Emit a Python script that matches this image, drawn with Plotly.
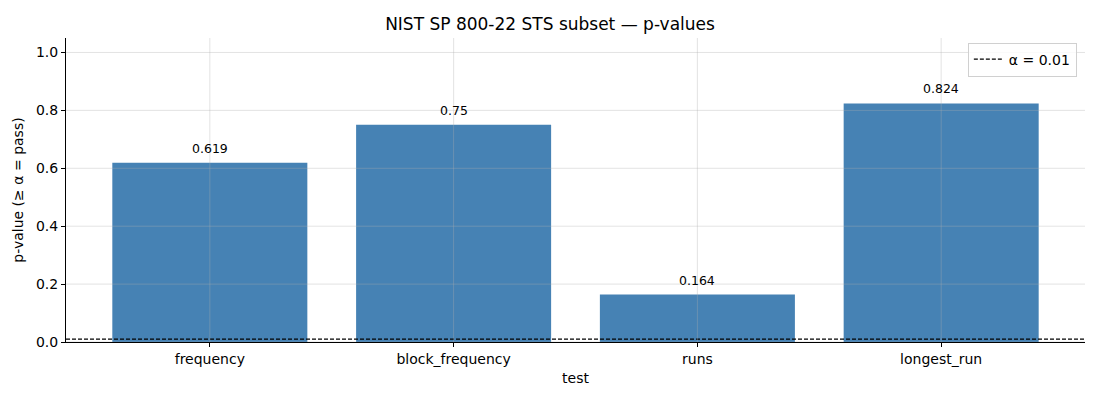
import plotly.graph_objects as go

# data
tests = ["frequency", "block_frequency", "runs", "longest_run"]
p_values = [0.619, 0.75, 0.164, 0.824]
alpha = 0.01
y_ticks = [0.0, 0.2, 0.4, 0.6, 0.8, 1.0]

bar_color = "#4682B4"
grid_color = "rgba(176,176,176,0.35)"
dash_style = "4px,2px"

fig = go.Figure()
fig.add_trace(go.Bar(x=tests, y=p_values, marker=dict(color=bar_color, line=dict(width=0)),
                     width=0.8, showlegend=False, hoverinfo="x+y"))
# dummy trace only for the legend entry of the alpha line
fig.add_trace(go.Scatter(x=[None], y=[None], mode="lines", name="α = 0.01",
                         line=dict(color="black", dash=dash_style, width=1.2)))

# threshold line
fig.add_hline(y=alpha, line=dict(color="black", dash=dash_style, width=1.2), layer="above")

# grid on top of bars, like matplotlib's ax.grid with alpha
for t in tests:
    fig.add_shape(type="line", xref="x", yref="paper", x0=t, x1=t, y0=0, y1=1,
                  line=dict(color=grid_color, width=1), layer="above")
for v in y_ticks:
    fig.add_shape(type="line", xref="paper", yref="y", x0=0, x1=1, y0=v, y1=v,
                  line=dict(color=grid_color, width=1), layer="above")

# value labels
for t, v in zip(tests, p_values):
    fig.add_annotation(x=t, y=v, text=str(round(v, 3)), showarrow=False,
                       yanchor="bottom", yshift=5, font=dict(size=12.5, color="black"))

fig.update_layout(
    width=1100, height=400,
    margin=dict(l=66, r=15, t=38, b=58),
    plot_bgcolor="white", paper_bgcolor="white",
    font=dict(family="DejaVu Sans", size=14, color="black"),
    title=dict(text="NIST SP 800-22 STS subset — p-values", x=0.5, xanchor="center",
               y=0.94, yanchor="middle", font=dict(size=17)),
    bargap=0.2,
    legend=dict(x=0.992, y=0.985, xanchor="right", yanchor="top",
                bordercolor="#d0d0d0", borderwidth=1, bgcolor="rgba(255,255,255,0.8)",
                font=dict(size=14), tracegroupgap=0),
    xaxis=dict(title=dict(text="test", standoff=7, font=dict(size=14)),
               range=[-0.59, 3.59], showgrid=False, showline=True, linecolor="black",
               linewidth=1, ticks="outside", ticklen=4, tickcolor="black", zeroline=False),
    yaxis=dict(title=dict(text="p-value (≥ α = pass)", standoff=9, font=dict(size=14)),
               range=[0, 1.05], tickvals=y_ticks, tickformat=".1f", showgrid=False,
               showline=True, linecolor="black", linewidth=1, ticks="outside", ticklen=4,
               tickcolor="black", zeroline=False),
)

# drop the default page margin so the figure sits at the window's corner
fig.write_html("out.html", config={"displayModeBar": False},
               post_script="document.body.style.margin='0';")
